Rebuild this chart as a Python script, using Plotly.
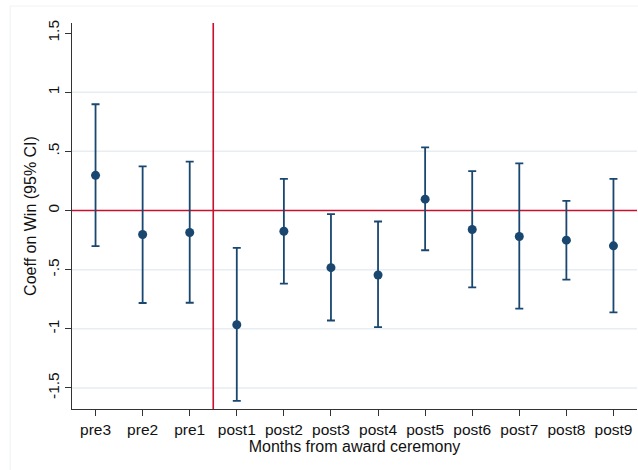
import plotly.graph_objects as go

# Event-study coefficients by month relative to the award ceremony
periods = ["pre3", "pre2", "pre1", "post1", "post2", "post3", "post4",
           "post5", "post6", "post7", "post8", "post9"]
coef = [0.297, -0.203, -0.186, -0.966, -0.175, -0.483, -0.545,
        0.096, -0.161, -0.220, -0.251, -0.299]
ci_low = [-0.302, -0.782, -0.780, -1.610, -0.619, -0.930, -0.986,
          -0.336, -0.650, -0.830, -0.585, -0.862]
ci_high = [0.898, 0.373, 0.413, -0.316, 0.268, -0.031, -0.093,
           0.534, 0.333, 0.398, 0.082, 0.268]

y_ticks = [-1.5, -1, -0.5, 0, 0.5, 1, 1.5]
y_tick_text = ["-1.5", "-1", "-.5", "0", ".5", "1", "1.5"]
grid_vals = [-1.5, -1, -0.5, 0.5, 1]

xpos = list(range(1, len(periods) + 1))
err_up = [h - c for h, c in zip(ci_high, coef)]
err_dn = [c - l for c, l in zip(coef, ci_low)]

navy = "#1a476f"
red = "#c8102e"
grid = "#e6eef1"
font = "Liberation Sans, Arial, sans-serif"

fig = go.Figure()
fig.add_trace(go.Scatter(
    x=xpos, y=coef, mode="markers",
    marker=dict(color=navy, size=9),
    error_y=dict(type="data", symmetric=False, array=err_up,
                 arrayminus=err_dn, color=navy, thickness=1.8, width=4),
    showlegend=False,
))

shapes = []
for g in grid_vals:
    shapes.append(dict(type="line", xref="paper", yref="y", x0=0, x1=1,
                       y0=g, y1=g, line=dict(color=grid, width=1.5),
                       layer="below"))
# reference lines at zero effect and at the ceremony
shapes.append(dict(type="line", xref="paper", yref="y", x0=0, x1=1,
                   y0=0, y1=0, line=dict(color=red, width=1.6), layer="below"))
shapes.append(dict(type="line", xref="x", yref="paper", x0=3.5, x1=3.5,
                   y0=0, y1=1, line=dict(color=red, width=1.6), layer="below"))
# outer graph-region border
shapes.append(dict(type="rect", xref="paper", yref="paper",
                   x0=-0.1095, x1=1.2, y0=-0.3, y1=1.044,
                   line=dict(color="#eef2f4", width=1), fillcolor="rgba(0,0,0,0)",
                   layer="below"))

fig.update_layout(
    width=638, height=470,
    margin=dict(l=72, r=1, t=23, b=61),
    paper_bgcolor="white", plot_bgcolor="white",
    font=dict(family=font, size=15.5, color="#111111"),
    shapes=shapes,
    xaxis=dict(
        range=[0.5, 12.5], tickvals=xpos, ticktext=periods,
        showgrid=False, zeroline=False,
        showline=True, linecolor="#333333", linewidth=1.2,
        ticks="outside", ticklen=6, tickcolor="#333333",
        tickfont=dict(size=15.5),
        title=dict(text="Months from award ceremony", font=dict(size=16),
                   standoff=0),
    ),
    yaxis=dict(
        range=[-1.678, 1.585], tickvals=y_ticks, ticktext=y_tick_text,
        tickangle=-90, showgrid=False, zeroline=False,
        showline=True, linecolor="#333333", linewidth=1.2,
        ticks="outside", ticklen=6, tickcolor="#333333",
        tickfont=dict(size=15.5),
        title=dict(text="Coeff on Win (95% CI)", font=dict(size=16),
                   standoff=4),
    ),
)

fig.write_html("out.html")
